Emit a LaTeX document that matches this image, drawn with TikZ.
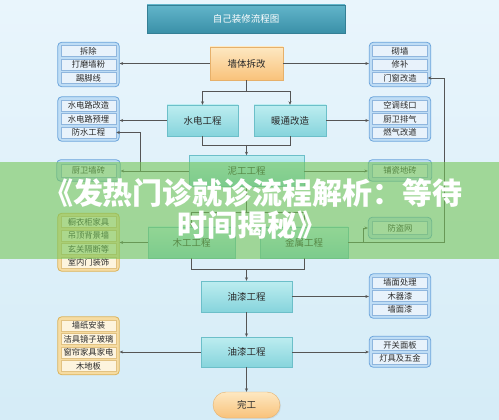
\documentclass[tikz,border=0pt]{standalone}
\usepackage{fontspec}
\newfontfamily\cjk{Noto Sans CJK SC}
\usetikzlibrary{arrows.meta,fit,shadows}
\pgfdeclarelayer{back}
\pgfsetlayers{back,main}
\definecolor{bgtop}{HTML}{E9F5FC}
\definecolor{bgbot}{HTML}{D5ECF7}
\definecolor{proct}{HTML}{BDEDF0}
\definecolor{procbot}{HTML}{86D4DC}
\definecolor{procb}{HTML}{6CBFC9}
\definecolor{ort}{HTML}{FDE8C2}
\definecolor{orb}{HTML}{F9C27A}
\definecolor{ordr}{HTML}{E6B06A}
\definecolor{tit}{HTML}{62B5CA}
\definecolor{tib}{HTML}{3A90A8}
\definecolor{tid}{HTML}{347F95}
\definecolor{grpf}{HTML}{BFDDF5}
\definecolor{grpb}{HTML}{6EA6DC}
\definecolor{itf}{HTML}{E8F2FB}
\definecolor{itb}{HTML}{8FB6DE}
\definecolor{ogf}{HTML}{F6DCA2}
\definecolor{ogb}{HTML}{DCB45C}
\definecolor{oif}{HTML}{FDF4DE}
\definecolor{oib}{HTML}{E2C282}
\definecolor{lc}{HTML}{555555}
\definecolor{txt}{HTML}{2A2A2A}
\definecolor{bann}{RGB}{118,198,88}
\tikzset{
  proc/.style={draw=procb, top color=proct, bottom color=procbot, minimum height=31pt,
    inner sep=0pt, font=\cjk\fontsize{9.5}{11}\selectfont, text=txt,
    drop shadow={opacity=0.15, shadow xshift=1pt, shadow yshift=-1pt}},
  orng/.style={draw=ordr, top color=ort, bottom color=orb, inner sep=0pt,
    font=\cjk\fontsize{9.5}{11}\selectfont, text=txt,
    drop shadow={opacity=0.15, shadow xshift=1pt, shadow yshift=-1pt}},
  titlebox/.style={draw=tid, top color=tit, bottom color=tib, inner sep=0pt,
    minimum width=198pt, minimum height=28pt, text=white,
    font=\cjk\fontsize{9.5}{11}\selectfont},
  item/.style={draw=itb, fill=itf, minimum width=55pt, minimum height=11pt, inner sep=0pt,
    font=\cjk\fontsize{8.3}{9}\selectfont, text=txt, line width=0.5pt},
  oitem/.style={item, draw=oib, fill=oif},
  sitem/.style={item, minimum height=13pt},
  grp/.style={draw=grpb, fill=grpf, rounded corners=4pt, inner sep=3pt, line width=0.8pt},
  ogrp/.style={grp, draw=ogb, fill=ogf},
  conn/.style={draw=lc, line width=0.6pt},
  arr/.style={conn, -{Stealth[length=3.5pt,width=3pt]}},
}
\begin{document}
\begin{tikzpicture}[x=1pt,y=-1pt]
\useasboundingbox (0,0) rectangle (499,420);
\begin{pgfonlayer}{back}
\fill[top color=bgtop, bottom color=bgbot] (0,0) rectangle (499,420);
\end{pgfonlayer}

% main process nodes
\node[titlebox] (title) at (246,19) {自己装修流程图};
\node[orng, minimum width=73pt, minimum height=33pt] (wall) at (246.5,63.5) {墙体拆改};
\node[proc, minimum width=71pt] (sd) at (202.5,120.5) {水电工程};
\node[proc, minimum width=72pt] (nt) at (290,120.5) {暖通改造};
\node[proc, minimum width=115pt] (ng) at (246.5,171) {泥工工程};
\node[proc, minimum width=87pt] (mg) at (191.5,242.5) {木工工程};
\node[proc, minimum width=88pt] (js) at (304,242.5) {金属工程};
\node[proc, minimum width=91pt] (yq1) at (246.5,296.5) {油漆工程};
\node[proc, minimum width=91pt, minimum height=30pt] (yq2) at (246.5,352) {油漆工程};
\node[orng, minimum width=67pt, minimum height=26pt, rounded corners=13pt] (done) at (246.5,405) {完工};

% left groups
\node[item] (l1a) at (88.5,51) {拆除};
\node[item] (l1b) at (88.5,64.5) {打磨墙粉};
\node[item] (l1c) at (88.5,78) {踢脚线};
\node[item] (l2a) at (88.5,105.5) {水电路改造};
\node[item] (l2b) at (88.5,119) {水电路预埋};
\node[item] (l2c) at (88.5,132.5) {防水工程};
\node[sitem] (l3a) at (88.5,170.5) {厨卫墙砖};
\node[oitem] (l4a) at (88.5,222) {橱衣柜家具};
\node[oitem] (l4b) at (88.5,235.5) {吊顶背景墙};
\node[oitem] (l4c) at (88.5,249) {玄关隔断等};
\node[oitem] (l4d) at (88.5,262.5) {室内门装饰};
\node[oitem] (l5a) at (88.5,325.5) {墙纸安装};
\node[oitem] (l5b) at (88.5,339) {洁具镜子玻璃};
\node[oitem] (l5c) at (88.5,352.5) {窗帘家具家电};
\node[oitem] (l5d) at (88.5,366) {木地板};
% right groups
\node[item] (r1a) at (400,51) {砌墙};
\node[item] (r1b) at (400,64.5) {修补};
\node[item] (r1c) at (400,78) {门窗改造};
\node[item] (r2a) at (400,105.5) {空调线口};
\node[item] (r2b) at (400,119) {厨卫排气};
\node[item] (r2c) at (400,132.5) {燃气改道};
\node[sitem] (r3a) at (400,170.5) {铺瓷地砖};
\node[sitem] (r4a) at (400,228) {防盗网};
\node[item] (r5a) at (400,282.5) {墙面处理};
\node[item] (r5b) at (400,296) {木器漆};
\node[item] (r5c) at (400,309.5) {墙面漆};
\node[item] (r6a) at (400,345) {开关面板};
\node[item] (r6b) at (400,358.5) {灯具及五金};

\begin{pgfonlayer}{back}
\node[grp, fit=(l1a)(l1c)] (L1) {};
\node[grp, fit=(l2a)(l2c)] (L2) {};
\node[grp, inner sep=4pt, fit=(l3a)] (L3) {};
\node[ogrp, fit=(l4a)(l4d)] (L4) {};
\node[ogrp, fit=(l5a)(l5d)] (L5) {};
\node[grp, fit=(r1a)(r1c)] (R1) {};
\node[grp, fit=(r2a)(r2c)] (R2) {};
\node[grp, inner sep=4pt, fit=(r3a)] (R3) {};
\node[grp, inner sep=4pt, fit=(r4a)] (R4) {};
\node[grp, fit=(r5a)(r5c)] (R5) {};
\node[grp, fit=(r6a)(r6b)] (R6) {};
\end{pgfonlayer}

% connectors
\coordinate (j1) at (246.5,91);
\coordinate (j2) at (246.5,145);
\coordinate (j3) at (246.5,212);
\coordinate (j4) at (246.5,269);
\coordinate (fsx) at (140,0);
\coordinate (rx) at (444,0);
\coordinate (bx) at (363,0);
\draw[arr] (wall.west) -- (wall.west -| L1.east);
\draw[arr] (wall.east) -- (wall.east -| R1.west);
\draw[conn] (wall.south) -- (j1);
\draw[arr] (j1) -| (sd.north);
\draw[arr] (j1) -| (nt.north);
\draw[arr] (sd.west) -- (sd.west -| L2.east);
\draw[arr] (nt.east) -- (nt.east -| R2.west);
\draw[conn] (sd.south) |- (j2);
\draw[conn] (nt.south) |- (j2);
\draw[arr] (j2) -- (ng.north);
\draw[arr] (ng.west) -- (ng.west -| L3.east);
\draw[arr] (ng.east) -- (ng.east -| R3.west);
\draw[arr] (ng.west -| fsx) |- (l2c.east);
\draw[conn] (ng.south) -- (j3);
\draw[arr] (j3) -| (mg.north);
\draw[arr] (j3) -| (js.north);
\draw[arr] (mg.west) -- (mg.west -| L4.east);
\draw[arr] (js.east) -- (js.east -| rx) |- (r1c.east);
\draw[arr] (js.east -| bx) |- (R4.west);
\draw[conn] (mg.south) |- (j4);
\draw[conn] (js.south) |- (j4);
\draw[arr] (j4) -- (yq1.north);
\draw[arr] (yq1.east) -- (yq1.east -| R5.west);
\draw[arr] (yq1.south) -- (yq2.north);
\draw[arr] (yq2.west) -- (yq2.west -| L5.east);
\draw[arr] (yq2.east) -- (yq2.east -| R6.west);
\draw[arr] (yq2.south) -- (done.north);

% banner overlay
\fill[bann, opacity=0.6] (0,162) rectangle (499,259);
\node[font=\cjk\bfseries\fontsize{30}{32}\selectfont, text=white, align=center] (bt) at (253,209)
  {《发热门诊就诊流程解析：等待\\时间揭秘》};
\end{tikzpicture}
\end{document}
